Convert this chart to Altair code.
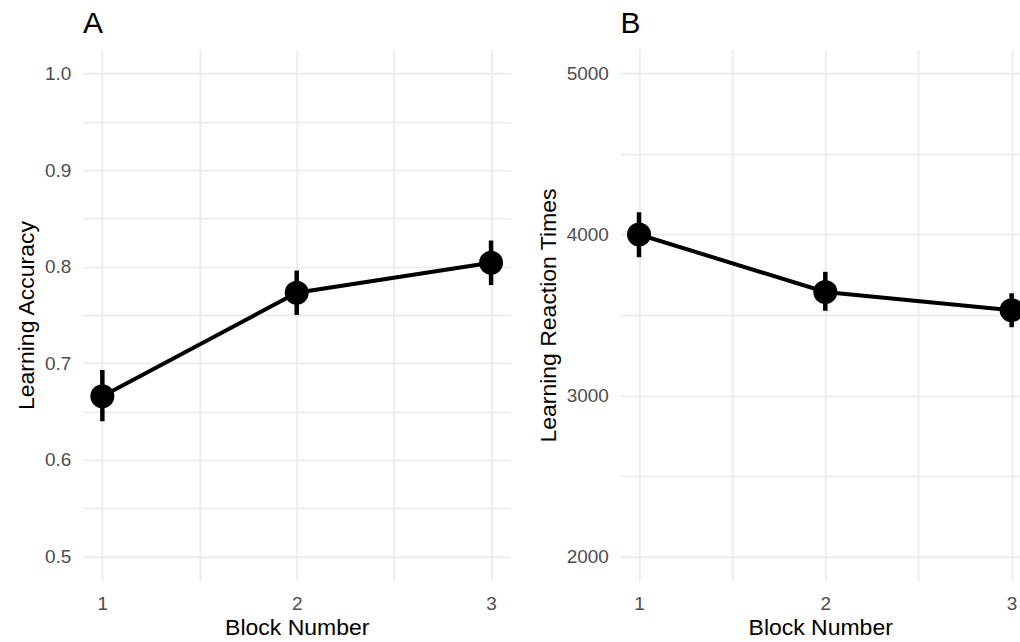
import altair as alt
import pandas as pd

# Block-wise learning performance (mean with error range)
blocks = [1, 2, 3]

acc_mean = [0.666, 0.773, 0.804]
acc_low = [0.640, 0.750, 0.781]
acc_high = [0.693, 0.796, 0.827]

rt_mean = [4000, 3643, 3530]
rt_low = [3859, 3526, 3424]
rt_high = [4138, 3768, 3635]

x_ticks = [1, 1.5, 2, 2.5, 3]
acc_ticks = [0.5, 0.55, 0.6, 0.65, 0.7, 0.75, 0.8, 0.85, 0.9, 0.95, 1.0]
rt_ticks = [2000, 2500, 3000, 3500, 4000, 4500, 5000]

FONT = "Liberation Sans"
GRID = "#EBEBEB"


def panel(mean, low, high, letter, y_title, y_domain, y_ticks, y_label_expr,
          x_domain, width, height):
    df = pd.DataFrame({"block": blocks, "mean": mean, "low": low, "high": high})
    base = alt.Chart(df)

    x = alt.X(
        "block:Q",
        scale=alt.Scale(domain=x_domain, nice=False, zero=False),
        axis=alt.Axis(
            values=x_ticks,
            labelExpr="datum.value % 1 == 0 ? format(datum.value, 'd') : ''",
            title="Block Number",
            labelPadding=14,
            titlePadding=3,
        ),
    )
    y_scale = alt.Scale(domain=y_domain, nice=False, zero=False)
    y = alt.Y(
        "mean:Q",
        scale=y_scale,
        axis=alt.Axis(
            values=y_ticks,
            labelExpr=y_label_expr,
            title=y_title,
            labelPadding=12,
            titlePadding=6,
        ),
    )

    bars = base.mark_rule(color="black", strokeWidth=4.5, clip=True).encode(
        x=x,
        y=alt.Y("low:Q", scale=y_scale),
        y2="high:Q",
    )
    line = base.mark_line(color="black", strokeWidth=4, clip=True).encode(x=x, y=y)
    points = base.mark_circle(color="black", size=576, opacity=1, clip=True).encode(
        x=x, y=y
    )

    return alt.layer(bars, line, points).properties(
        width=width,
        height=height,
        title=alt.TitleParams(
            letter,
            anchor="start",
            frame="group",
            fontSize=30,
            font=FONT,
            fontWeight="normal",
            color="black",
            offset=10,
        ),
    )


panel_a = panel(
    acc_mean, acc_low, acc_high, "A", "Learning Accuracy",
    [0.475, 1.025], acc_ticks,
    "abs(datum.value * 10 - round(datum.value * 10)) < 0.001 ? format(datum.value, '.1f') : ''",
    [0.9, 3.1], 428, 532,
)
panel_b = panel(
    rt_mean, rt_low, rt_high, "B", "Learning Reaction Times",
    [1850, 5150], rt_ticks,
    "datum.value % 1000 == 0 ? format(datum.value, 'd') : ''",
    [0.9, 3.045], 400, 532,
)

chart = (
    alt.hconcat(panel_a, panel_b, spacing=26)
    .properties(padding={"left": 15, "top": 9, "right": 0, "bottom": 0}, background="white")
    .configure_view(stroke=None)
    .configure_axis(
        domain=False,
        ticks=False,
        grid=True,
        gridColor=GRID,
        gridWidth=1.8,
        labelFont=FONT,
        labelFontSize=19,
        labelColor="#4D4D4D",
        labelOverlap=False,
        labelFlush=False,
        titleFont=FONT,
        titleFontSize=23,
        titleFontWeight="normal",
        titleColor="black",
    )
)

chart.save("out.html", embed_options={"renderer": "svg", "actions": False})
